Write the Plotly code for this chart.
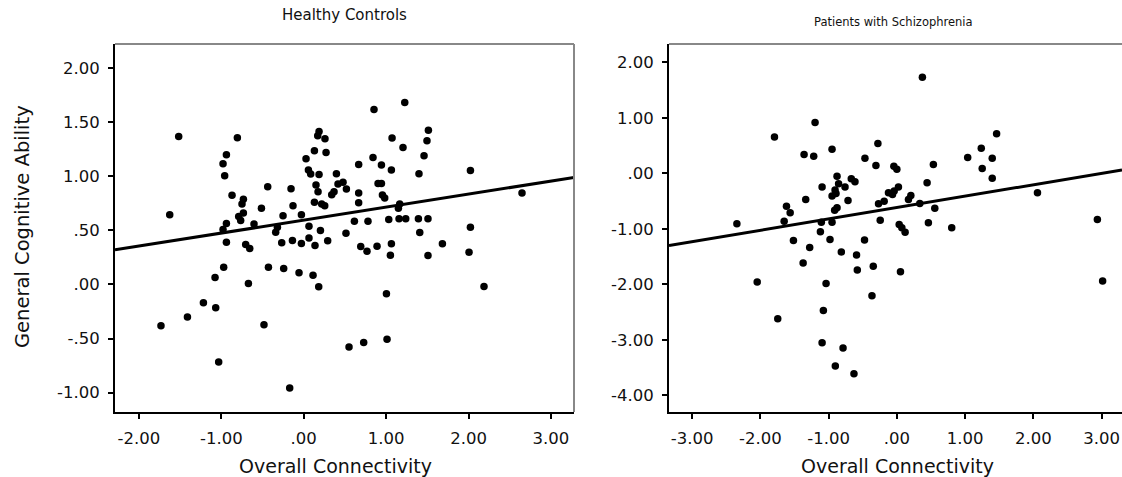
import plotly.graph_objects as go

# ---------------- data ----------------
hc_x = [-1.517, -0.805, -0.938, -0.979, -0.959, -0.870, -0.732, -0.749, -0.437, -0.513,
        -0.789, -0.732, -0.765, -1.626, -0.938, -0.603, -0.154, -0.130, -0.251, -0.028,
        0.064, 0.028, 0.130, 0.186, 0.170, 0.258, 0.271, 0.057, 0.085, 0.186,
        0.149, 0.174, 0.340, 0.368, 0.397, 0.416, 0.477, 0.518, 0.130, 0.218,
        0.255, -0.319, -0.340, 0.203, -0.979, -0.938, -0.704, -0.655, -0.267, -0.137,
        -0.028, 0.064, 0.137, 0.291, 0.513, -0.971, -1.076, -0.671, -0.428, -0.243,
        -0.057, 0.113, 0.182, -1.217, -1.068, -1.411, -1.732, -0.482, -1.032, -0.170,
        0.550, 0.853, 1.226, 1.513, 1.496, 1.072, 1.205, 1.460, 0.841, 0.667,
        0.943, 1.064, 1.399, 2.023, 0.902, 0.943, 0.667, 0.667, 0.955, 0.983,
        1.165, 1.149, 2.649, 0.615, 0.780, 1.032, 1.157, 1.238, 1.392, 1.508,
        2.023, 1.408, 0.692, 0.768, 0.890, 1.064, 1.052, 1.508, 1.683, 2.006,
        2.188, 1.004, 0.728, 1.011]
hc_y = [1.369, 1.357, 1.200, 1.117, 1.006, 0.825, 0.788, 0.745, 0.905, 0.705,
        0.628, 0.662, 0.591, 0.646, 0.563, 0.560, 0.886, 0.729, 0.637, 0.646,
        0.538, 1.163, 1.237, 1.416, 1.376, 1.348, 1.222, 1.059, 1.022, 1.018,
        0.921, 0.859, 0.831, 0.859, 1.025, 0.930, 0.945, 0.884, 0.760, 0.745,
        0.729, 0.529, 0.483, 0.499, 0.508, 0.391, 0.369, 0.332, 0.385, 0.406,
        0.379, 0.431, 0.360, 0.404, 0.474, 0.160, 0.065, 0.009, 0.160, 0.148,
        0.108, 0.086, -0.021, -0.169, -0.215, -0.302, -0.381, -0.372, -0.717, -0.958,
        -0.579, 1.619, 1.683, 1.428, 1.330, 1.355, 1.268, 1.191, 1.175, 1.111,
        1.105, 1.059, 1.025, 1.055, 0.935, 0.935, 0.847, 0.757, 0.828, 0.801,
        0.745, 0.705, 0.847, 0.584, 0.584, 0.600, 0.607, 0.607, 0.607, 0.607,
        0.529, 0.480, 0.351, 0.307, 0.354, 0.376, 0.271, 0.268, 0.376, 0.298,
        -0.018, -0.086, -0.536, -0.508]

sz_x = [-2.345, -1.794, -1.199, -1.360, -1.219, -0.950, -0.278, -0.468, -0.307, -0.877,
        -1.096, -1.336, -1.618, -1.564, -1.652, -0.854, -0.760, -0.906, -0.892, -0.950,
        -0.716, -0.668, -0.614, -0.912, -0.877, -1.107, -0.950, -0.269, -0.186, -0.123,
        -0.244, 0.374, -0.044, 0.000, 0.535, 1.038, 1.237, 1.462, 1.398, 1.251,
        1.398, 0.443, 2.061, 2.939, 0.023, -0.039, -0.064, 0.205, 0.170, 0.336,
        0.556, 0.034, 0.462, 0.804, -1.121, -1.516, -0.980, -1.278, -0.814, -0.591,
        -0.474, -1.374, -0.580, -0.346, -2.047, -1.038, -0.365, -1.077, -1.746, -1.096,
        -0.789, -0.902, -0.629, 0.073, 0.121, 0.053, 3.016]
sz_y = [-0.910, 0.656, 0.917, 0.338, 0.307, 0.434, 0.537, 0.271, 0.139, -0.054,
        -0.248, -0.470, -0.591, -0.711, -0.863, -0.186, -0.248, -0.302, -0.362, -0.410,
        -0.488, -0.096, -0.150, -0.664, -0.620, -0.881, -0.881, -0.548, -0.501, -0.349,
        -0.844, 1.731, 0.127, 0.072, 0.157, 0.284, 0.452, 0.711, 0.271, 0.085,
        -0.090, -0.168, -0.349, -0.832, -0.248, -0.320, -0.380, -0.398, -0.470, -0.542,
        -0.627, -0.922, -0.892, -0.982, -1.054, -1.212, -1.193, -1.338, -1.416, -1.470,
        -1.199, -1.615, -1.741, -1.676, -1.958, -1.984, -2.206, -2.472, -2.622, -3.051,
        -3.146, -3.472, -3.611, -0.982, -1.061, -1.772, -1.940]

# fit lines: endpoints at the axis limits
hc_fit_x = [-2.29, 3.28]
hc_fit_y = [0.32, 0.99]
sz_fit_x = [-3.34, 3.30]
sz_fit_y = [-1.30, 0.06]

hc_xtick_vals = [-2, -1, 0, 1, 2, 3]
hc_xtick_text = ["-2.00", "-1.00", ".00", "1.00", "2.00", "3.00"]
hc_ytick_vals = [-1, -0.5, 0, 0.5, 1, 1.5, 2]
hc_ytick_text = ["-1.00", "-.50", ".00", ".50", "1.00", "1.50", "2.00"]
sz_xtick_vals = [-3, -2, -1, 0, 1, 2, 3]
sz_xtick_text = ["-3.00", "-2.00", "-1.00", ".00", "1.00", "2.00", "3.00"]
sz_ytick_vals = [-4, -3, -2, -1, 0, 1, 2]
sz_ytick_text = ["-4.00", "-3.00", "-2.00", "-1.00", ".00", "1.00", "2.00"]

title_left = "Healthy Controls"
title_right = "Patients with Schizophrenia"
xlabel = "Overall Connectivity"
ylabel = "General Cognitive Ability"

# ---------------- figure ----------------
W, H = 1122, 477
FONT = "DejaVu Sans"
TXT = "#111111"

fig = go.Figure()
mk = dict(color="black", size=7.5)
fig.add_trace(go.Scatter(x=hc_x, y=hc_y, mode="markers", marker=mk, xaxis="x", yaxis="y"))
fig.add_trace(go.Scatter(x=hc_fit_x, y=hc_fit_y, mode="lines",
                         line=dict(color="black", width=3), xaxis="x", yaxis="y"))
fig.add_trace(go.Scatter(x=sz_x, y=sz_y, mode="markers", marker=mk, xaxis="x2", yaxis="y2"))
fig.add_trace(go.Scatter(x=sz_fit_x, y=sz_fit_y, mode="lines",
                         line=dict(color="black", width=3), xaxis="x2", yaxis="y2"))

ydom = [1 - 412 / H, 1 - 44 / H]
axis_common = dict(showgrid=False, zeroline=False, showline=True, linecolor="black",
                   linewidth=2, ticks="outside", ticklen=5, tickwidth=1.5, tickcolor="black",
                   tickfont=dict(family=FONT, size=16.5, color=TXT))

fig.update_layout(
    width=W, height=H, showlegend=False,
    margin=dict(l=0, r=0, t=0, b=0),
    plot_bgcolor="white", paper_bgcolor="white",
    xaxis=dict(domain=[115 / W, 574 / W], range=[-2.29, 3.28], anchor="y",
               tickvals=hc_xtick_vals, ticktext=hc_xtick_text, ticklabelstandoff=5, **axis_common),
    yaxis=dict(domain=ydom, range=[-1.18, 2.225], anchor="x",
               tickvals=hc_ytick_vals, ticktext=hc_ytick_text, ticklabelstandoff=5, **axis_common),
    xaxis2=dict(domain=[669 / W, 1.0], range=[-3.34, 3.30], anchor="y2",
                tickvals=sz_xtick_vals, ticktext=sz_xtick_text, ticklabelstandoff=5, **axis_common),
    yaxis2=dict(domain=ydom, range=[-4.30, 2.33], anchor="x2",
                tickvals=sz_ytick_vals, ticktext=sz_ytick_text, ticklabelstandoff=5, **axis_common),
)

# grey top / right frame lines
fig.add_shape(type="line", xref="x domain", yref="y domain", x0=0, x1=1, y0=1, y1=1,
              line=dict(color="#888", width=2))
fig.add_shape(type="line", xref="x domain", yref="y domain", x0=1, x1=1, y0=0, y1=1,
              line=dict(color="#888", width=2))
fig.add_shape(type="line", xref="x2 domain", yref="y2 domain", x0=0, x1=1, y0=1, y1=1,
              line=dict(color="#888", width=2))

# titles and axis labels
def note(x, y, text, size, angle=0):
    fig.add_annotation(x=x / W, y=1 - y / H, xref="paper", yref="paper", text=text,
                       showarrow=False, xanchor="center", yanchor="middle", textangle=angle,
                       font=dict(family=FONT, size=size, color=TXT))

note(344, 15, title_left, 15)
note(893, 22, title_right, 11.5)
note(335, 466, xlabel, 19)
note(897, 466, xlabel, 19)
note(23, 227, ylabel, 19.5, -90)

fig.write_html("out.html", config={"displayModeBar": False},
               post_script="document.body.style.margin='0';")
